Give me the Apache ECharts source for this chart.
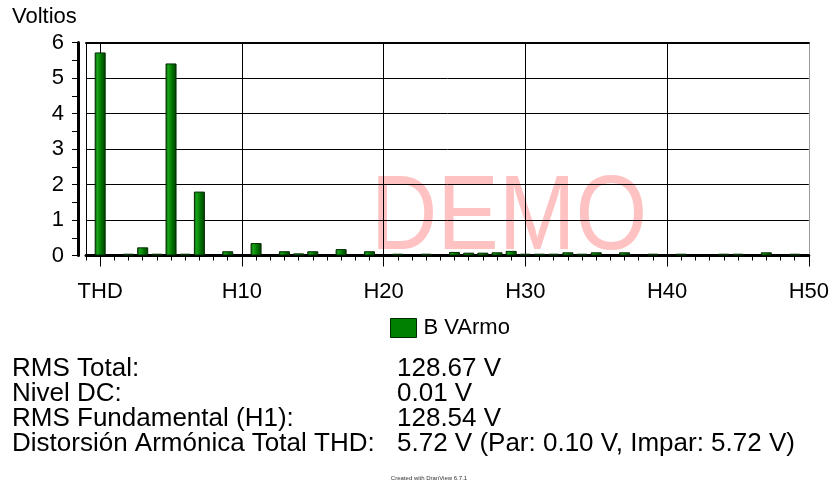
<!DOCTYPE html>
<html>
<head>
<meta charset="utf-8">
<script src="https://cdn.jsdelivr.net/npm/echarts@6/dist/echarts.min.js"></script>
<style>
  html, body { margin: 0; padding: 0; background: #fff; }
  #chart { width: 832px; height: 483px; }
</style>
</head>
<body>
<div id="chart"></div>
<script>
// Harmonic orders on the x axis; the first slot is an unlabelled lead-in position.
var categories = ['', 'THD',
  'H1', 'H2', 'H3', 'H4', 'H5', 'H6', 'H7', 'H8', 'H9', 'H10',
  'H11', 'H12', 'H13', 'H14', 'H15', 'H16', 'H17', 'H18', 'H19', 'H20',
  'H21', 'H22', 'H23', 'H24', 'H25', 'H26', 'H27', 'H28', 'H29', 'H30',
  'H31', 'H32', 'H33', 'H34', 'H35', 'H36', 'H37', 'H38', 'H39', 'H40',
  'H41', 'H42', 'H43', 'H44', 'H45', 'H46', 'H47', 'H48', 'H49', 'H50'];

// Harmonic voltage (V) per category, null where no bar is shown.
var voltages = [null, 5.72,
  null, 0.05, 0.23, 0.05, 5.41, 0.05, 1.80, null, 0.12, null,
  0.35, null, 0.12, 0.06, 0.12, null, 0.18, null, 0.12, null,
  0.05, null, 0.05, null, 0.10, 0.08, 0.08, 0.09, 0.13, 0.05,
  0.05, 0.05, 0.09, 0.05, 0.09, null, 0.09, null, 0.05, null,
  0.05, null, null, 0.05, 0.05, null, 0.09, null, 0.05, null];

var seriesName = 'B VArmo';
var yTitle = 'Voltios';
var yTicks = { min: 0, max: 6, step: 1 };

var summaryLabels = ['RMS Total:', 'Nivel DC:', 'RMS Fundamental (H1):', 'Distorsión Armónica Total THD:'];
var summaryValues = ['128.67 V', '0.01 V', '128.54 V', '5.72 V (Par: 0.10 V, Impar: 5.72 V)'];
var footerNote = 'Created with DranView 6.7.1';
var watermark = 'DEMO';

var FONT = '"Liberation Sans", Arial, sans-serif';

// Labelled positions: THD and every tenth harmonic after it.
function isMajor(i) { return i >= 1 && (i - 1) % 10 === 0; }

var chart = echarts.init(document.getElementById('chart'), null, { renderer: 'canvas' });

var graphics = [
  {
    type: 'text', x: 12, y: 17, z: 10,
    style: { text: yTitle, font: '22px ' + FONT, fill: '#000', textVerticalAlign: 'middle' }
  },
  {
    type: 'text', z: -10, x: 509, y: 220,
    scaleX: 0.87,
    style: {
      text: watermark, font: '106px ' + FONT, fill: '#ffc2c2',
      textAlign: 'center', textVerticalAlign: 'middle'
    }
  },
  {
    type: 'text', x: 429, y: 478, z: 10,
    style: {
      text: footerNote, font: '6px ' + FONT, fill: '#333',
      textAlign: 'center', textVerticalAlign: 'middle'
    }
  }
];
summaryLabels.forEach(function (t, k) {
  graphics.push({
    type: 'text', x: 12, y: 369 + k * 25, z: 10,
    style: { text: t, font: '26px ' + FONT, fill: '#000', textVerticalAlign: 'middle' }
  });
  graphics.push({
    type: 'text', x: 397, y: 369 + k * 25, z: 10,
    style: { text: summaryValues[k], font: '26px ' + FONT, fill: '#000', textVerticalAlign: 'middle' }
  });
});

var option = {
  animation: false,
  backgroundColor: '#fff',
  textStyle: { fontFamily: FONT },
  grid: { left: 86, right: 20, top: 42.5, bottom: 227.5, containLabel: false },
  legend: {
    left: 390, top: 317, padding: 0,
    itemWidth: 26, itemHeight: 19, itemGap: 10,
    icon: 'rect',
    textStyle: { fontSize: 22, color: '#000', fontFamily: FONT, padding: [0, 0, 0, 2] },
    data: [{ name: seriesName, itemStyle: { color: '#008000', borderColor: '#002a00', borderWidth: 1 } }]
  },
  xAxis: [
    {
      type: 'category', data: categories, boundaryGap: false,
      position: 'bottom', offset: 6,
      axisLine: { show: true, lineStyle: { color: '#000', width: 3 } },
      axisTick: { show: true, interval: 0, length: 5, lineStyle: { color: '#000', width: 1 } },
      axisLabel: {
        show: true, interval: function (i) { return isMajor(i); },
        color: '#000', fontSize: 22, fontFamily: FONT, margin: 19
      },
      splitLine: {
        show: true,
        interval: function (i) { return i === 0 || (isMajor(i) && i < categories.length - 1); },
        lineStyle: { color: '#000', width: 1 }
      }
    },
    {
      type: 'category', data: categories, boundaryGap: false,
      position: 'bottom', offset: 6,
      axisLine: { show: false },
      axisTick: {
        show: true, interval: function (i) { return isMajor(i); },
        length: 11, lineStyle: { color: '#000', width: 1 }
      },
      axisLabel: { show: false },
      splitLine: { show: false }
    },
    {
      type: 'category', data: categories, boundaryGap: false,
      position: 'top',
      axisLine: { show: true, lineStyle: { color: '#000', width: 2 } },
      axisTick: { show: false },
      axisLabel: { show: false },
      splitLine: { show: false }
    }
  ],
  yAxis: [
    {
      type: 'value', min: yTicks.min, max: yTicks.max, interval: yTicks.step,
      position: 'left', offset: 8,
      axisLine: { show: true, lineStyle: { color: '#000', width: 3 } },
      axisTick: { show: true, length: 6, lineStyle: { color: '#000', width: 1 } },
      minorTick: { show: true, splitNumber: 2, length: 6, lineStyle: { color: '#000', width: 1 } },
      axisLabel: { color: '#000', fontSize: 22, fontFamily: FONT, margin: 14 },
      splitLine: { show: true, lineStyle: { color: '#000', width: 1 } }
    },
    {
      type: 'value', min: yTicks.min, max: yTicks.max, interval: yTicks.step,
      position: 'right',
      axisLine: { show: true, lineStyle: { color: '#9a9a9a', width: 1 } },
      axisTick: { show: false },
      axisLabel: { show: false },
      splitLine: { show: false }
    }
  ],
  series: [
    {
      name: seriesName, type: 'bar',
      xAxisIndex: 0, yAxisIndex: 0,
      barWidth: 11,
      data: voltages,
      itemStyle: {
        color: new echarts.graphic.LinearGradient(0, 0, 1, 0, [
          { offset: 0, color: '#0b5e0b' },
          { offset: 0.25, color: '#18a418' },
          { offset: 0.6, color: '#007400' },
          { offset: 1, color: '#003a00' }
        ]),
        borderColor: '#002a00', borderWidth: 1
      }
    }
  ],
  graphic: graphics
};

chart.setOption(option);
</script>
</body>
</html>
